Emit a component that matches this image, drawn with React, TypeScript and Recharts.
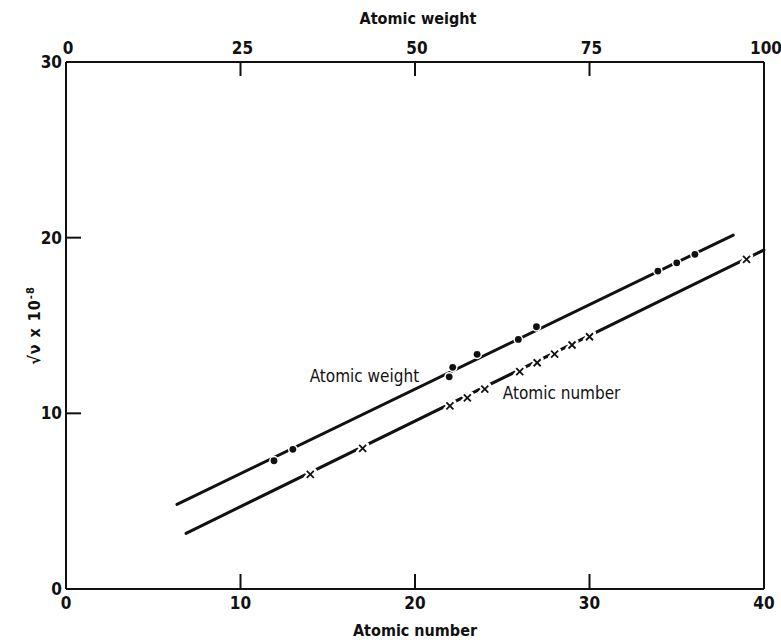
import React from 'react';
import { ScatterChart, Scatter, XAxis, YAxis, ReferenceDot } from 'recharts';

// Moseley plot: sqrt of K-line frequency vs. atomic number (bottom axis)
// and vs. atomic weight (top axis)
const numberTicks = [0, 10, 20, 30, 40];
const weightTicks = [0, 25, 50, 75, 100];
const freqTicks = [0, 10, 20, 30];

// crosses, plotted against atomic number
const atomicNumbers = [14, 17, 22, 23, 24, 26, 27, 28, 29, 30, 39];
const numberFreq = [6.53, 8.0, 10.42, 10.88, 11.38, 12.37, 12.88, 13.37, 13.89, 14.36, 18.77];

// dots, plotted against atomic weight
const atomicWeights = [29.8, 32.5, 54.9, 55.4, 58.9, 64.8, 67.4, 84.8, 87.5, 90.1];
const weightFreq = [7.3, 7.95, 12.08, 12.62, 13.36, 14.21, 14.93, 18.1, 18.57, 19.05];

// fitted straight lines (end points)
const numberFitX = [6.88, 40];
const numberFitY = [3.17, 19.3];
const weightFitX = [15.9, 95.6];
const weightFitY = [4.82, 20.15];

const toPoints = (xs: number[], ys: number[]) => xs.map((x, i) => ({ x, y: ys[i] }));

const numberPts = toPoints(atomicNumbers, numberFreq);
const weightPts = toPoints(atomicWeights, weightFreq);
const numberFit = toPoints(numberFitX, numberFitY);
const weightFit = toPoints(weightFitX, weightFitY);

const FONT = "'Liberation Sans Narrow', 'DejaVu Sans Condensed', 'Liberation Sans', sans-serif";
const INK = '#111';

type Side = 'bottom' | 'top' | 'left' | 'right';

// ticks point into the plot, labels sit outside
const makeTick = (side: Side, margin: number, len: number, ends: number[], showLabel = true) => (props: any) => {
  const { x, y, payload } = props;
  const v = payload.value;
  const drawLine = !ends.includes(v);
  let line = null;
  let label = null;
  if (side === 'bottom') {
    const ay = y - margin;
    if (drawLine) line = <line x1={x} x2={x} y1={ay} y2={ay - len} stroke={INK} strokeWidth={2} />;
    label = <text x={x} y={y} dy="0.35em" textAnchor="middle">{v}</text>;
  } else if (side === 'top') {
    const ay = y + margin;
    if (drawLine) line = <line x1={x} x2={x} y1={ay} y2={ay + len} stroke={INK} strokeWidth={2} />;
    label = <text x={x + 2} y={y} dy="0.35em" textAnchor="middle">{v}</text>;
  } else if (side === 'left') {
    const ax = x + margin;
    if (drawLine) line = <line x1={ax} x2={ax + len} y1={y} y2={y} stroke={INK} strokeWidth={2} />;
    label = <text x={x} y={y} dy="0.35em" textAnchor="end">{v}</text>;
  } else {
    const ax = x - margin;
    if (drawLine) line = <line x1={ax} x2={ax - len} y1={y} y2={y} stroke={INK} strokeWidth={2} />;
  }
  return (
    <g fontFamily={FONT} fontSize={17} fontWeight="bold" fill={INK}>
      {line}
      {showLabel ? label : null}
    </g>
  );
};

const Dot = (p: any) => (
  <circle cx={p.cx} cy={p.cy} r={3.4} fill={INK} stroke="#fff" strokeWidth={3} paintOrder="stroke" />
);

const Cross = (p: any) => {
  const s = 3.5;
  const d = `M${p.cx - s},${p.cy - s}L${p.cx + s},${p.cy + s}M${p.cx - s},${p.cy + s}L${p.cx + s},${p.cy - s}`;
  return (
    <g>
      <path d={d} stroke="#fff" strokeWidth={6} strokeLinecap="round" />
      <path d={d} stroke={INK} strokeWidth={1.8} />
    </g>
  );
};

const NoShape = () => <g />;

const lineStyle = { stroke: INK, strokeWidth: 3, strokeLinecap: 'round' as const };

const inPlotText = (text: string) => (p: any) => (
  <text x={p.cx} y={p.cy} dy="0.35em" textAnchor="middle" fontFamily={FONT} fontSize={17} fill={INK}>
    {text}
  </text>
);

export default function App() {
  return (
    <div style={{ position: 'absolute', left: 0, top: 0, background: '#fff' }}>
      <ScatterChart width={781} height={640} margin={{ top: 0, right: 0, bottom: 0, left: 0 }}>
        <XAxis
          xAxisId="z"
          type="number"
          dataKey="x"
          orientation="bottom"
          domain={[0, 40]}
          ticks={numberTicks}
          height={51}
          tickSize={0}
          tickMargin={14}
          tickLine={false}
          axisLine={{ stroke: INK, strokeWidth: 2 }}
          tick={makeTick('bottom', 14, 15, [0, 40])}
          interval={0}
          label={{
            content: (lp: any) => {
              const vb = lp.viewBox;
              return (
                <text x={vb.x + vb.width / 2} y={vb.y + 41} dy="0.35em" textAnchor="middle"
                  fontFamily={FONT} fontSize={16} fontWeight="bold" fill={INK}>Atomic number</text>
              );
            },
          }}
        />
        <XAxis
          xAxisId="w"
          type="number"
          dataKey="x"
          orientation="top"
          domain={[0, 100]}
          ticks={weightTicks}
          height={62}
          tickSize={0}
          tickMargin={14}
          tickLine={false}
          axisLine={{ stroke: INK, strokeWidth: 2 }}
          tick={makeTick('top', 14, 14, [0, 100])}
          interval={0}
          label={{
            content: (lp: any) => {
              const vb = lp.viewBox;
              return (
                <text x={vb.x + vb.width / 2 + 3} y={18} dy="0.35em" textAnchor="middle"
                  fontFamily={FONT} fontSize={16} fontWeight="bold" fill={INK}>Atomic weight</text>
              );
            },
          }}
        />
        <YAxis
          yAxisId="l"
          type="number"
          dataKey="y"
          orientation="left"
          domain={[0, 30]}
          ticks={freqTicks}
          width={66}
          tickSize={0}
          tickMargin={4}
          tickLine={false}
          axisLine={{ stroke: INK, strokeWidth: 2 }}
          tick={makeTick('left', 4, 15, [0, 30])}
          interval={0}
          label={{
            content: (lp: any) => {
              const vb = lp.viewBox;
              const cx = 34;
              const cy = vb.y + vb.height / 2;
              return (
                <text x={cx} y={cy} dy="0.35em" textAnchor="middle" transform={`rotate(-90 ${cx} ${cy})`}
                  fontFamily={FONT} fontSize={16} fontWeight="bold" fill={INK} letterSpacing={1}>
                  √ν  x  10<tspan dy="-6" fontSize={11}>-8</tspan>
                </text>
              );
            },
          }}
        />
        <YAxis
          yAxisId="r"
          type="number"
          dataKey="y"
          orientation="right"
          domain={[0, 30]}
          ticks={freqTicks}
          width={17}
          tickSize={0}
          tickMargin={0}
          tickLine={false}
          axisLine={{ stroke: INK, strokeWidth: 2 }}
          tick={makeTick('right', 0, 14, [0, 30], false)}
          interval={0}
        />

        <Scatter data={weightFit} xAxisId="w" yAxisId="l" fill={INK} line={lineStyle} shape={NoShape} isAnimationActive={false} />
        <Scatter data={numberFit} xAxisId="z" yAxisId="l" fill={INK} line={lineStyle} shape={NoShape} isAnimationActive={false} />
        <Scatter data={weightPts} xAxisId="w" yAxisId="l" fill={INK} shape={Dot} isAnimationActive={false} />
        <Scatter data={numberPts} xAxisId="z" yAxisId="l" fill={INK} shape={Cross} isAnimationActive={false} />

        <ReferenceDot xAxisId="z" yAxisId="l" x={17.1} y={12.1} r={0} shape={inPlotText('Atomic weight')} />
        <ReferenceDot xAxisId="z" yAxisId="l" x={28.4} y={11.15} r={0} shape={inPlotText('Atomic number')} />
      </ScatterChart>
    </div>
  );
}
